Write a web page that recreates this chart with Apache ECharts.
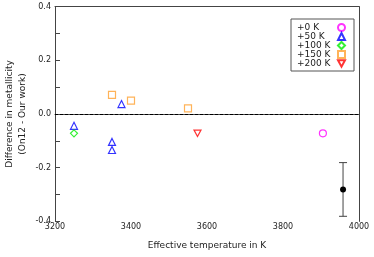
<!DOCTYPE html>
<html>
<head>
<meta charset="utf-8">
<script src="https://cdn.jsdelivr.net/npm/echarts@6/dist/echarts.min.js"></script>
<style>
html,body{margin:0;padding:0;background:#fff;}
#c{width:374px;height:257px;}
</style>
</head>
<body>
<div id="c"></div>
<script>
// Data
const legendNames = ['+0 K', '+50 K', '+100 K', '+150 K', '+200 K'];
const temp0 = [3905];
const metal0 = [-0.072];
const temp50 = [3250, 3350, 3350, 3375];
const metal50 = [-0.044, -0.104, -0.134, 0.037];
const temp100 = [3250];
const metal100 = [-0.072];
const temp150 = [3350, 3400, 3550];
const metal150 = [0.071, 0.050, 0.021];
const temp200 = [3575];
const metal200 = [-0.072];
const errTemp = [3958];
const errValue = [-0.281];
const errSize = [0.1];
const xTicks = [3200, 3400, 3600, 3800, 4000];
const yTicks = [-0.4, -0.2, 0.0, 0.2, 0.4];

const zip = (a, b) => a.map((v, i) => [v, b[i]]);
const font = 'DejaVu Sans';
const frame = '#444';
const downTriangle = 'path://M0,0L10,0L5,9Z';

function scatter(name, xs, ys, symbol, color, size) {
  return {
    name: name,
    type: 'scatter',
    data: zip(xs, ys),
    symbol: symbol,
    symbolSize: size || 7,
    itemStyle: { color: 'rgba(255,255,255,0)', borderColor: color, borderWidth: 1.2 },
    emphasis: { disabled: true }
  };
}

const series = [
  scatter(legendNames[0], temp0, metal0, 'circle', '#ff00ff'),
  scatter(legendNames[1], temp50, metal50, 'triangle', '#0000ff'),
  scatter(legendNames[2], temp100, metal100, 'diamond', '#00ee00'),
  scatter(legendNames[3], temp150, metal150, 'rect', '#ffa030'),
  scatter(legendNames[4], temp200, metal200, downTriangle, '#ff0000', [7, 6.5]),
  {
    type: 'custom',
    name: 'err',
    data: errTemp.map((t, i) => [t, errValue[i], errSize[i]]),
    renderItem: function (params, api) {
      const x = api.value(0), y = api.value(1), e = api.value(2);
      const p = api.coord([x, y]);
      const top = api.coord([x, y + e]);
      const bot = api.coord([x, y - e]);
      const cap = 4;
      const st = { stroke: '#444', lineWidth: 1 };
      return {
        type: 'group',
        children: [
          { type: 'line', shape: { x1: top[0], y1: top[1], x2: bot[0], y2: bot[1] }, style: st },
          { type: 'line', shape: { x1: top[0] - cap, y1: top[1], x2: top[0] + cap, y2: top[1] }, style: st },
          { type: 'line', shape: { x1: bot[0] - cap, y1: bot[1], x2: bot[0] + cap, y2: bot[1] }, style: st },
          { type: 'circle', shape: { cx: p[0], cy: p[1], r: 3 }, style: { fill: '#000' } }
        ]
      };
    },
    markLine: {
      silent: true,
      symbol: 'none',
      label: { show: false },
      lineStyle: { color: '#000', type: [3, 2], width: 1 },
      data: [{ yAxis: 0 }]
    }
  }
];

const chart = echarts.init(document.getElementById('c'));
chart.setOption({
  animation: false,
  backgroundColor: '#fff',
  textStyle: { fontFamily: font },
  grid: { left: 55, right: 15, top: 6.6, bottom: 35.6, containLabel: false, outerBoundsMode: 'none' },
  legend: {
    data: legendNames,
    orient: 'vertical',
    left: 291,
    top: 19,
    align: 'right',
    itemWidth: 7,
    itemHeight: 7,
    itemGap: 0,
    padding: [4, 8, 3, 6],
    borderColor: '#555',
    borderWidth: 1,
    backgroundColor: '#fff',
    formatter: '{a|{name}}',
    textStyle: {
      fontFamily: font,
      fontSize: 9,
      color: '#222',
      rich: { a: { width: 36, align: 'left', fontSize: 9, lineHeight: 11.3, fontFamily: font, color: '#222' } }
    }
  },
  xAxis: [
    {
      type: 'value',
      min: xTicks[0],
      max: xTicks[xTicks.length - 1],
      interval: 200,
      name: 'Effective temperature in K',
      nameLocation: 'middle',
      nameGap: 20,
      nameMoveOverlap: false,
      nameTextStyle: { fontSize: 9, color: '#222', fontFamily: font },
      axisLine: { show: true, lineStyle: { color: frame, width: 1 } },
      axisTick: { show: false },
      splitLine: { show: false },
      axisLabel: { fontSize: 8, color: '#222', margin: 2, fontFamily: font, formatter: v => String(v) }
    },
    {
      type: 'value',
      position: 'top',
      min: xTicks[0],
      max: xTicks[xTicks.length - 1],
      axisLine: { show: true, onZero: false, lineStyle: { color: frame, width: 1 } },
      axisTick: { show: false },
      axisLabel: { show: false },
      splitLine: { show: false }
    }
  ],
  yAxis: [
    {
      type: 'value',
      min: yTicks[0],
      max: yTicks[yTicks.length - 1],
      interval: 0.1,
      name: 'Difference in metallicity\n(On12 - Our work)',
      nameLocation: 'middle',
      nameGap: 26,
      nameMoveOverlap: false,
      nameTextStyle: { fontSize: 9, color: '#222', lineHeight: 13, fontFamily: font },
      axisLine: { show: true, onZero: false, lineStyle: { color: frame, width: 1 } },
      axisTick: { show: true, inside: true, length: 5, lineStyle: { color: frame } },
      splitLine: { show: false },
      axisLabel: { fontSize: 8, color: '#222', margin: 4, fontFamily: font,
        formatter: v => {
          const t = yTicks.find(k => Math.abs(k - v) < 1e-6);
          return t === undefined ? '' : t.toFixed(1);
        } }
    },
    {
      type: 'value',
      position: 'right',
      min: yTicks[0],
      max: yTicks[yTicks.length - 1],
      axisLine: { show: true, onZero: false, lineStyle: { color: frame, width: 1 } },
      axisTick: { show: false },
      axisLabel: { show: false },
      splitLine: { show: false }
    }
  ],
  series: series
});
</script>
</body>
</html>
